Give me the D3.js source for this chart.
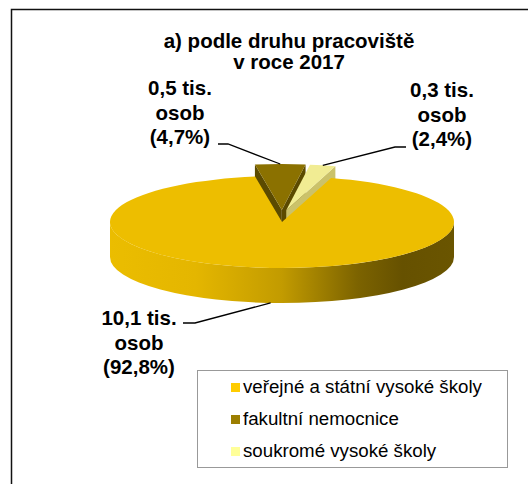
<!DOCTYPE html>
<html>
<head>
<meta charset="utf-8">
<script src="https://cdn.jsdelivr.net/npm/d3@7"></script>
<style>
  html, body { margin: 0; padding: 0; background: #fff; }
  svg { display: block; font-family: 'Liberation Sans', Arial, sans-serif; }
</style>
</head>
<body>
<div id="chart"></div>
<script>
const categories = ['veřejné a státní vysoké školy', 'fakultní nemocnice', 'soukromé vysoké školy'];
const persons = [10.1, 0.5, 0.3];   // tis. osob
const shares = [92.8, 4.7, 2.4];    // %
const exploded = [false, true, true];
const titleLines = ['a) podle druhu pracoviště', 'v roce 2017'];

const width = 528, height = 484;
const topColors = ['#edbe00', '#8b7100', '#f1ec93'];
const cutColors = ['#9c7d00', '#5b4a00', '#cbc26a'];
const swatchColors = ['#ffcc00', '#9c7e00', '#ffff99'];

const cz = d3.formatLocale({ decimal: ',', thousands: ' ', grouping: [3], currency: ['', ''] });
const fmt = cz.format('.1f');

const svg = d3.select('#chart').append('svg')
    .attr('width', width)
    .attr('height', height);

// outer frame (cut off at right and bottom)
svg.append('path')
    .attr('d', 'M11.5,' + height + 'V9.5H' + width)
    .attr('fill', 'none')
    .attr('stroke', '#111')
    .attr('stroke-width', 1.5);

// title
svg.append('g').selectAll('text')
    .data(titleLines)
    .enter().append('text')
    .attr('x', 289)
    .attr('y', (d, i) => 48 + i * 21)
    .attr('text-anchor', 'middle')
    .attr('font-weight', 'bold')
    .attr('font-size', 20.5)
    .text(d => d);

// 3d pie geometry
const cx = 282, cy = 222, rx = 172, ry = 46, depth = 35;
const explodeX = 20, explodeY = 12;
const total = d3.sum(shares);
const start = -9 * Math.PI / 180 - shares[0] / total * 2 * Math.PI + 2 * Math.PI;

const pie = d3.pie()
    .sort(null)
    .value(d => d)
    .startAngle(start)
    .endAngle(start + 2 * Math.PI);
const arcs = pie(shares);

function offset(d, i) {
    if (!exploded[i]) { return [0, 0]; }
    const mid = (d.startAngle + d.endAngle) / 2;
    return [explodeX * Math.sin(mid), -explodeY * Math.cos(mid)];
}

function pt(a, o, z) {
    return [cx + o[0] + rx * Math.sin(a), cy + o[1] - ry * Math.cos(a) + (z || 0)];
}

function topPath(d, o) {
    const p0 = pt(d.startAngle, o), p1 = pt(d.endAngle, o);
    const large = d.endAngle - d.startAngle > Math.PI ? 1 : 0;
    return 'M' + (cx + o[0]) + ',' + (cy + o[1]) + 'L' + p0 +
        'A' + rx + ',' + ry + ' 0 ' + large + ' 1 ' + p1 + 'Z';
}

function wallPath(a0, a1, o) {
    const p0 = pt(a0, o), p1 = pt(a1, o), q1 = pt(a1, o, depth), q0 = pt(a0, o, depth);
    const large = a1 - a0 > Math.PI ? 1 : 0;
    return 'M' + p0 + 'A' + rx + ',' + ry + ' 0 ' + large + ' 1 ' + p1 +
        'L' + q1 + 'A' + rx + ',' + ry + ' 0 ' + large + ' 0 ' + q0 + 'Z';
}

function cutPath(a, o) {
    const c = [cx + o[0], cy + o[1]], p = pt(a, o);
    return 'M' + c + 'L' + p + 'L' + p[0] + ',' + (p[1] + depth) +
        'L' + c[0] + ',' + (c[1] + depth) + 'Z';
}

// shading of the front wall
const grad = svg.append('defs').append('linearGradient')
    .attr('id', 'wallGrad')
    .attr('gradientUnits', 'userSpaceOnUse')
    .attr('x1', cx - rx).attr('x2', cx + rx)
    .attr('y1', 0).attr('y2', 0);
[[0, '#ebbd00'], [0.25, '#e4b600'], [0.5, '#c29b00'], [0.72, '#7c6300'], [0.85, '#665100'], [1, '#6a5500']]
    .forEach(s => grad.append('stop').attr('offset', s[0]).attr('stop-color', s[1]));

const pieG = svg.append('g').attr('class', 'pie');

// back (exploded) slices first, then the big front slice
const order = [1, 2, 0];
order.forEach(i => {
    const d = arcs[i];
    const o = offset(d, i);
    const g = pieG.append('g');
    // visible part of the outer wall (front half)
    [[Math.PI / 2, 3 * Math.PI / 2], [Math.PI / 2 + 2 * Math.PI, 3 * Math.PI / 2 + 2 * Math.PI]].forEach(r => {
        const a0 = Math.max(d.startAngle, r[0]), a1 = Math.min(d.endAngle, r[1]);
        if (a1 > a0) {
            g.append('path')
                .attr('d', wallPath(a0, a1, o))
                .attr('fill', i === 0 ? 'url(#wallGrad)' : cutColors[i]);
        }
    });
    if (-Math.sin(d.startAngle) > 0) {
        g.append('path').attr('d', cutPath(d.startAngle, o)).attr('fill', cutColors[i]);
    }
    if (Math.sin(d.endAngle) > 0) {
        g.append('path').attr('d', cutPath(d.endAngle, o)).attr('fill', cutColors[i]);
    }
    g.append('path')
        .attr('d', topPath(d, o))
        .attr('fill', topColors[i]);
});

// data labels with leader lines
const labelPos = [
    { x: 139, y: 325, lead: [183, 195, 323] },
    { x: 180, y: 95, lead: [218, 228, 144] },
    { x: 442, y: 97, lead: [406, 395, 147] }
];

const labels = svg.append('g').attr('class', 'labels');
arcs.forEach((d, i) => {
    const o = offset(d, i);
    const mid = (d.startAngle + d.endAngle) / 2;
    const end = exploded[i] ? pt(mid, o) : pt(mid, o, depth);
    const lp = labelPos[i];
    labels.append('path')
        .attr('d', 'M' + lp.lead[0] + ',' + lp.lead[2] + 'H' + lp.lead[1] + 'L' + end)
        .attr('fill', 'none')
        .attr('stroke', '#000')
        .attr('stroke-width', 1.3);
    const lines = [fmt(persons[i]) + ' tis.', 'osob', '(' + fmt(shares[i]) + '%)'];
    labels.append('g').selectAll('text')
        .data(lines)
        .enter().append('text')
        .attr('x', lp.x)
        .attr('y', (t, k) => lp.y + k * 24.5)
        .attr('text-anchor', 'middle')
        .attr('font-weight', 'bold')
        .attr('font-size', 20.5)
        .text(t => t);
});

// legend
const legend = svg.append('g').attr('class', 'legend');
legend.append('rect')
    .attr('x', 197.5).attr('y', 370.5)
    .attr('width', 310).attr('height', 97)
    .attr('fill', '#fff')
    .attr('stroke', '#999');
const items = legend.selectAll('g.item')
    .data(categories)
    .enter().append('g')
    .attr('class', 'item')
    .attr('transform', (d, i) => 'translate(0,' + (i * 32) + ')');
items.append('rect')
    .attr('x', 231).attr('y', 383)
    .attr('width', 9).attr('height', 9)
    .attr('fill', (d, i) => swatchColors[i]);
items.append('text')
    .attr('x', 243).attr('y', 393)
    .attr('font-size', 18.7)
    .attr('fill', '#000')
    .text(d => d);
</script>
</body>
</html>
